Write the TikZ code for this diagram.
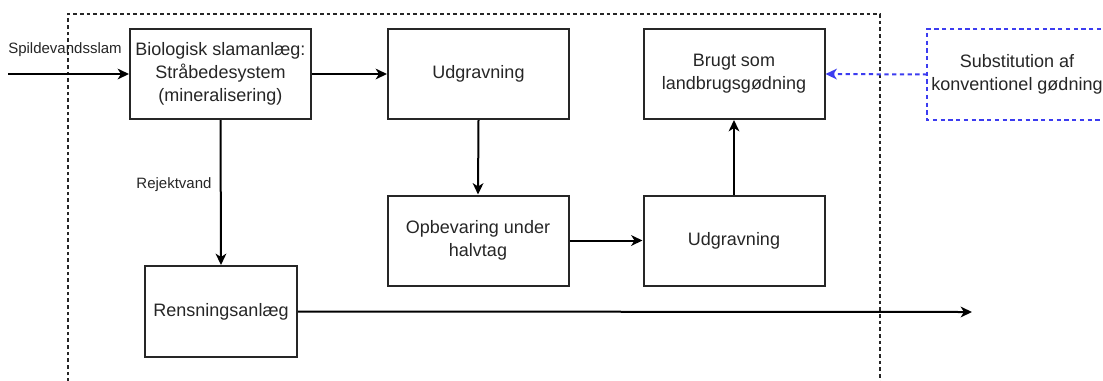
\documentclass[tikz,border=0pt]{standalone}
\usepackage{fontspec}
\setmainfont{Liberation Sans}
\usetikzlibrary{arrows.meta}
\begin{document}
\begin{tikzpicture}[x=0.75pt,y=-0.75pt,
  box/.style={draw=black!85,line width=1.5pt,minimum width=135.75pt,minimum height=67.5pt,
    inner sep=0pt,align=center,font=\fontsize{13.5}{17.25}\selectfont,text=black!85},
  lbl/.style={font=\fontsize{11.25}{14}\selectfont,text=black!85,inner sep=0pt},
  conn/.style={draw=black,line width=1.5pt,-{Stealth[length=8.5pt,width=8pt,inset=2.5pt]}},
  region/.style={draw=black!85,line width=1.5pt,dash pattern=on 2.8pt off 2.2pt},
  bluebox/.style={draw={rgb,255:red,60;green,60;blue,240},line width=1.5pt,dash pattern=on 3.2pt off 2.6pt},
  bluearrow/.style={draw={rgb,255:red,60;green,60;blue,240},line width=1.5pt,dash pattern=on 3.2pt off 2.6pt,
    -{Stealth[length=8.5pt,width=8pt,inset=2.5pt,sep=0pt]}}]
\useasboundingbox (0,0) rectangle (1103,380);
\fill[white] (0,0) rectangle (1103,380);
% dashed system boundary
\draw[region] (68,382) -- (68,14) -- (880,14) -- (880,382);
% nodes
\node[box] (bio) at (220.5,74) {Biologisk slamanlæg:\\Stråbedesystem\\(mineralisering)};
\node[box] (udg1) at (478.5,74) {Udgravning};
\node[box] (brugt) at (734,74) {Brugt som\\landbrugsgødning};
\node[box] (opb) at (478,240.5) {Opbevaring under\\halvtag};
\node[box] (udg2) at (734,240.5) {Udgravning};
\node[box,minimum width=114pt,minimum height=68.25pt] (rens) at (221,311.5) {Rensningsanlæg};
\node[minimum width=135.75pt,minimum height=68pt,inner sep=0pt] (sub) at (1018,74.5) {};
\node[font=\fontsize{13.5}{17.25}\selectfont,text=black!85,align=center,inner sep=0pt] (subtxt) at (1017,74.5) {Substitution af\\konventionel gødning};
\draw[bluebox] (sub.north east) -- (sub.north west) -- (sub.south west) -- (sub.south east);
% labels
\node[lbl] (spl) at (65,50) {Spildevandsslam};
\node[lbl] (rej) at (174,185) {Rejektvand};
% free ends
\coordinate (in) at (8,74);
\coordinate (out) at (972,312);
% connectors
\draw[conn] (in) -- (bio.west);
\draw[conn] (bio.east) -- (udg1.west);
\draw[conn] (udg1.south) -- (opb.north);
\draw[conn] (opb.east) -- (udg2.west);
\draw[conn] (udg2.north) -- (brugt.south);
\draw[conn] (bio.south) -- (rens.north);
\draw[conn] (rens.east) -- (out);
\draw[bluearrow] (sub.west) -- (brugt.east);
\end{tikzpicture}
\end{document}
